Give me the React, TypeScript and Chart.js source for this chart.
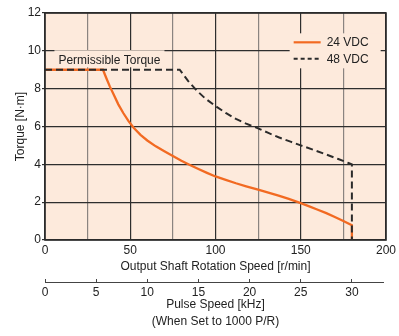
import React, { useEffect, useRef } from 'react';
import { Chart, registerables } from 'chart.js';

Chart.register(...registerables);

// ---- data ----
const seriesLabels = ['24 VDC', '48 VDC'];
const speed24 = [0, 34, 36, 38, 40, 43, 46, 49, 52, 56, 60, 65, 70, 75, 80, 85, 90, 95, 100, 106, 112, 118, 125, 131, 137, 143, 150, 155, 160, 165, 170, 175, 180, 180];
const torque24 = [9, 9, 8.55, 8.12, 7.74, 7.17, 6.7, 6.28, 5.93, 5.56, 5.26, 4.95, 4.69, 4.44, 4.19, 3.96, 3.75, 3.55, 3.36, 3.18, 3.0, 2.84, 2.66, 2.5, 2.35, 2.17, 1.95, 1.78, 1.6, 1.42, 1.22, 1.0, 0.78, 0];
const speed48 = [0, 79, 84, 89, 94, 100, 106, 112, 118, 125, 131, 137, 144, 150, 158, 165, 172, 178, 180, 180];
const torque48 = [9, 9, 8.4, 7.9, 7.48, 7.08, 6.72, 6.4, 6.15, 5.9, 5.66, 5.43, 5.2, 5.0, 4.75, 4.52, 4.28, 4.07, 4.0, 0];
const speedRange = [0, 200];
const speedStep = 25;
const speedLabelStep = 50;
const torqueRange = [0, 12];
const torqueStep = 2;
const pulseStep = 5;
const kHzPerRpm = 1 / 6; // 30 kHz <-> 180 r/min
const permissibleLabel = 'Permissible Torque';
const xTitle = 'Output Shaft Rotation Speed [r/min]';
const x2Title = ['Pulse Speed [kHz]', '(When Set to 1000 P/R)'];
const yTitle = 'Torque [N·m]';

const FONT = "'Liberation Sans', Arial, Helvetica, sans-serif";
const FS = 12;
const BG = '#fdeadc';
const ORANGE = '#f26a22';
const DARK = '#2b2b2b';
const TEXT = '#222222';

const decor = {
  id: 'decor',
  beforeDraw(chart: any) {
    const { ctx, chartArea: a } = chart;
    ctx.save();
    ctx.fillStyle = BG;
    ctx.fillRect(a.left, a.top, a.right - a.left, a.bottom - a.top);
    ctx.restore();
  },
  beforeDatasetsDraw(chart: any) {
    const { ctx, scales } = chart;
    const x = scales.x, y = scales.y;
    ctx.save();
    ctx.font = `${FS}px ${FONT}`;
    ctx.textBaseline = 'middle';
    // permissible torque label
    const px = x.getPixelForValue(37.8);
    const py = y.getPixelForValue(9.5);
    const w = ctx.measureText(permissibleLabel).width;
    ctx.fillStyle = BG;
    ctx.fillRect(px - w / 2 - 4, py - 10, w + 8, 17);
    ctx.fillStyle = TEXT;
    ctx.textAlign = 'center';
    ctx.fillText(permissibleLabel, px, py + 0.5);
    // legend
    const lx = x.getPixelForValue(143.5);
    const ly = y.getPixelForValue(10.45);
    ctx.fillStyle = BG;
    ctx.fillRect(lx, ly - 9, 91, 35);
    const rows = [
      { color: ORANGE, dash: [] as number[], width: 2.2 },
      { color: DARK, dash: [4, 3], width: 2 },
    ];
    rows.forEach((r, i) => {
      const yy = ly + i * 16.5;
      ctx.beginPath();
      ctx.setLineDash(r.dash);
      ctx.strokeStyle = r.color;
      ctx.lineWidth = r.width;
      ctx.moveTo(lx + 4, yy);
      ctx.lineTo(lx + 31, yy);
      ctx.stroke();
      ctx.setLineDash([]);
      ctx.fillStyle = TEXT;
      ctx.textAlign = 'left';
      ctx.fillText(seriesLabels[i], lx + 37, yy + 0.5);
    });
    ctx.restore();
  },
  afterDraw(chart: any) {
    const { ctx, chartArea: a, scales } = chart;
    ctx.save();
    ctx.strokeStyle = DARK;
    ctx.lineWidth = 1.6;
    ctx.strokeRect(a.left, a.top, a.right - a.left, a.bottom - a.top);
    const x2 = scales.x2;
    const ly = x2.top + 3;
    ctx.lineWidth = 1;
    ctx.strokeStyle = '#444';
    ctx.beginPath();
    ctx.moveTo(x2.left, ly + 0.5);
    ctx.lineTo(x2.right - 2, ly + 0.5);
    ctx.stroke();
    ctx.restore();
  },
};

export default function App() {
  const ref = useRef<HTMLCanvasElement | null>(null);
  useEffect(() => {
    if (!ref.current) return;
    Chart.defaults.font.family = FONT;
    Chart.defaults.font.size = FS;
    Chart.defaults.color = TEXT;
    const chart = new Chart(ref.current, {
      type: 'line',
      data: {
        datasets: [
          {
            label: seriesLabels[0],
            data: speed24.map((s, i) => ({ x: s, y: torque24[i] })),
            borderColor: ORANGE,
            borderWidth: 2.3,
            pointRadius: 0,
            tension: 0,
            fill: false,
            order: 1,
          },
          {
            label: seriesLabels[1],
            data: speed48.map((s, i) => ({ x: s, y: torque48[i] })),
            borderColor: DARK,
            borderWidth: 2,
            borderDash: [7, 4],
            pointRadius: 0,
            tension: 0,
            fill: false,
            order: 0,
          },
        ],
      },
      options: {
        animation: false,
        responsive: false,
        devicePixelRatio: 1,
        layout: { padding: { left: 0, top: 13, right: 13, bottom: 0 } },
        plugins: { legend: { display: false }, tooltip: { enabled: false } },
        scales: {
          x: {
            type: 'linear',
            position: 'bottom',
            min: speedRange[0],
            max: speedRange[1],
            weight: 0,
            ticks: {
              stepSize: speedStep,
              autoSkip: false,
              maxRotation: 0,
              padding: 3,
              callback: (v: any) => (Number(v) % speedLabelStep === 0 ? String(v) : ''),
            },
            grid: {
              drawTicks: false,
              lineWidth: 1.2,
              color: (c: any) => (c.tick && c.tick.value % speedLabelStep === 0 ? '#2e2e2e' : '#8a8480'),
            },
            border: { display: false },
            title: { display: true, text: xTitle, padding: { top: 0, bottom: 5 } },
            afterFit: (s: any) => { s.height = 39; },
          },
          x2: {
            type: 'linear',
            position: 'bottom',
            min: speedRange[0] * kHzPerRpm,
            max: speedRange[1] * kHzPerRpm,
            weight: 1,
            ticks: { stepSize: pulseStep, includeBounds: false, autoSkip: false, maxRotation: 0, padding: 3 },
            grid: { drawOnChartArea: false, drawTicks: true, tickLength: 3, color: '#444', lineWidth: 1 },
            border: { display: false },
            title: { display: true, text: x2Title, font: { size: FS, lineHeight: 1.4 }, padding: { top: 0, bottom: 6 } },
            afterFit: (s: any) => { s.height = 57; },
          },
          y: {
            type: 'linear',
            min: torqueRange[0],
            max: torqueRange[1],
            ticks: { stepSize: torqueStep, padding: 1 },
            grid: { color: '#2e2e2e', lineWidth: 1.2, tickLength: 3 },
            border: { display: false },
            title: { display: true, text: yTitle, padding: { top: 13, bottom: 0 } },
            afterFit: (s: any) => { s.width = 45; },
          },
        },
      },
      plugins: [decor],
    } as any);
    return () => chart.destroy();
  }, []);
  return (
    <div style={{ position: 'absolute', left: 0, top: 0, width: 399, height: 336, background: '#fff' }}>
      <canvas ref={ref} width={399} height={336} />
    </div>
  );
}
